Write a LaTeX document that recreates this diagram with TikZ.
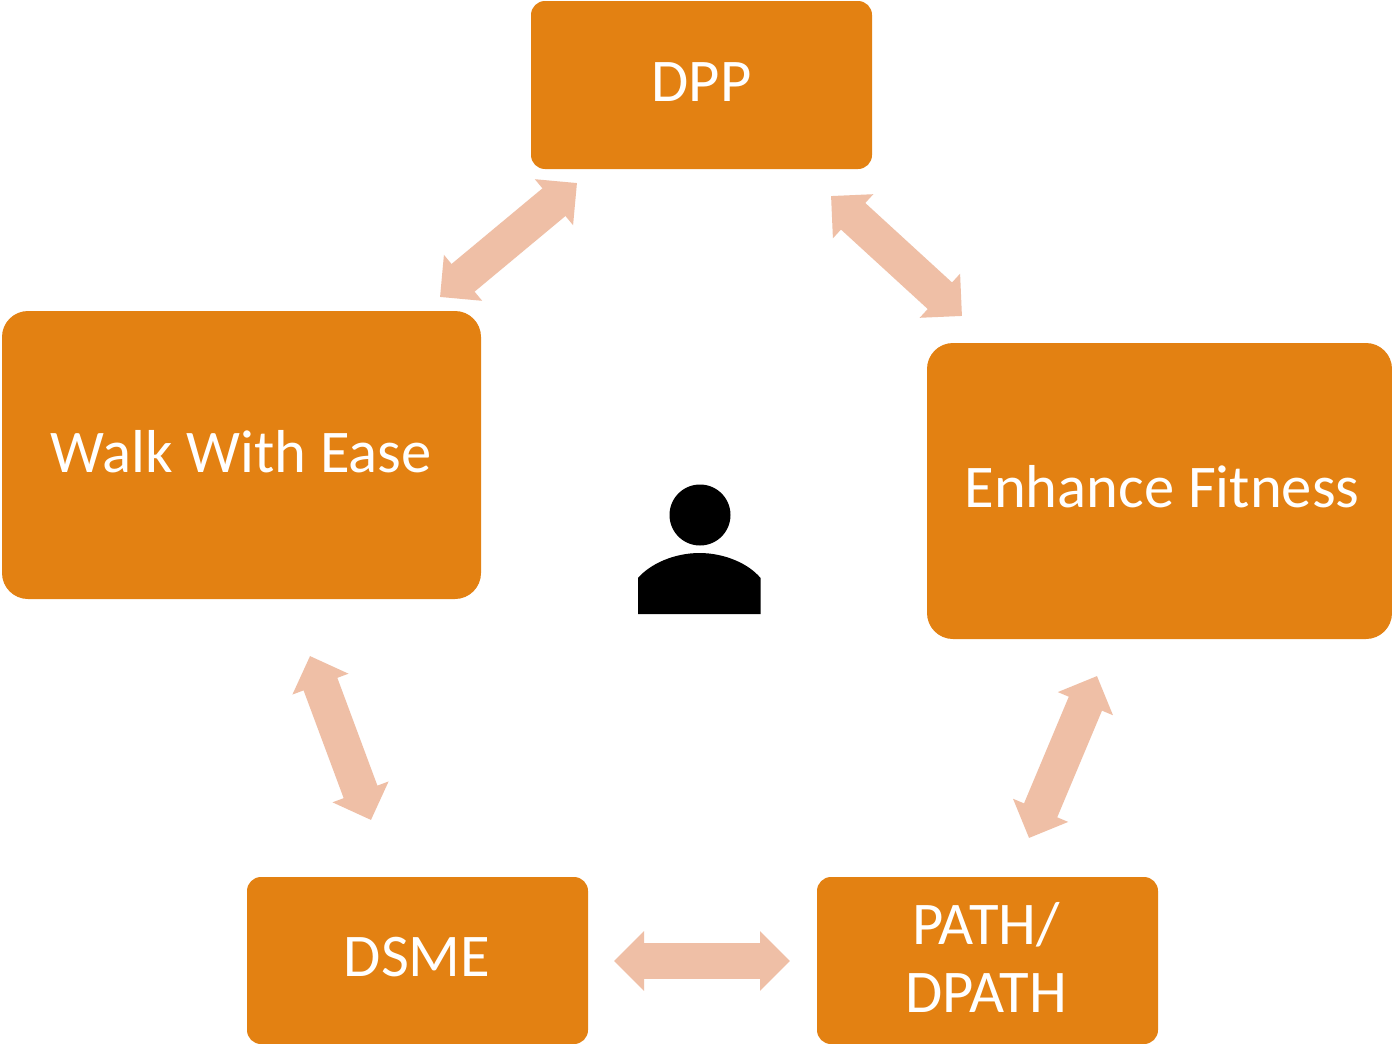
\documentclass[tikz,border=0pt]{standalone}
\usepackage{fontspec}
\setmainfont{Carlito}
\usetikzlibrary{arrows.meta,calc}
\definecolor{boxor}{HTML}{E38112}
\definecolor{arrowor}{HTML}{EFBFA6}
\tikzset{
  boxfill/.style={fill=boxor,rounded corners=#1},
  lab/.style={text=white,align=center,inner sep=0pt,font=\fontsize{30.3}{34}\selectfont},
  link/.style={draw=arrowor,line width=18pt,{Triangle[length=15pt,width=29pt]}-{Triangle[length=15pt,width=29pt]}},
}
\begin{document}
\begin{tikzpicture}[x=0.5pt,y=-0.5pt]
\useasboundingbox (0,0) rectangle (1392,1044);
\fill[white] (0,0) rectangle (1392,1044);
\fill[boxfill=7pt] (531,1) rectangle (872,169);
\fill[boxfill=13pt] (2,311) rectangle (481,599);
\fill[boxfill=13pt] (927,343) rectangle (1392,639);
\fill[boxfill=7pt] (247,877) rectangle (588,1044);
\fill[boxfill=7pt] (817,877) rectangle (1158,1044);
\node[lab] (dpp) at (701.5,82) {DPP};
\node[lab] (walk) at (241,452) {Walk With Ease};
\node[lab] (fit) at (1162,487) {Enhance Fitness};
\node[lab] (dsme) at (417,957) {DSME};
\node[lab] (path) at (986,957) {PATH/\\DPATH};
\coordinate (a1) at (577,183); \coordinate (a2) at (440,297);
\coordinate (b1) at (831,196); \coordinate (b2) at (962,316);
\coordinate (c1) at (1097,676); \coordinate (c2) at (1029,838);
\coordinate (d1) at (790,961); \coordinate (d2) at (614,961);
\coordinate (e1) at (371,820); \coordinate (e2) at (310,656);
\foreach \p/\q in {a1/a2,b1/b2,c1/c2,d1/d2,e1/e2}
  \draw[link] (\p) -- (\q);
\fill[black] (700,515) circle (15.25pt);
\fill[black] (638,614) -- (638,578) .. controls (650,564) and (674,553) .. (699.5,553) .. controls (725,553) and (749,564) .. (760.5,578) -- (760.5,614) -- cycle;
\end{tikzpicture}
\end{document}
